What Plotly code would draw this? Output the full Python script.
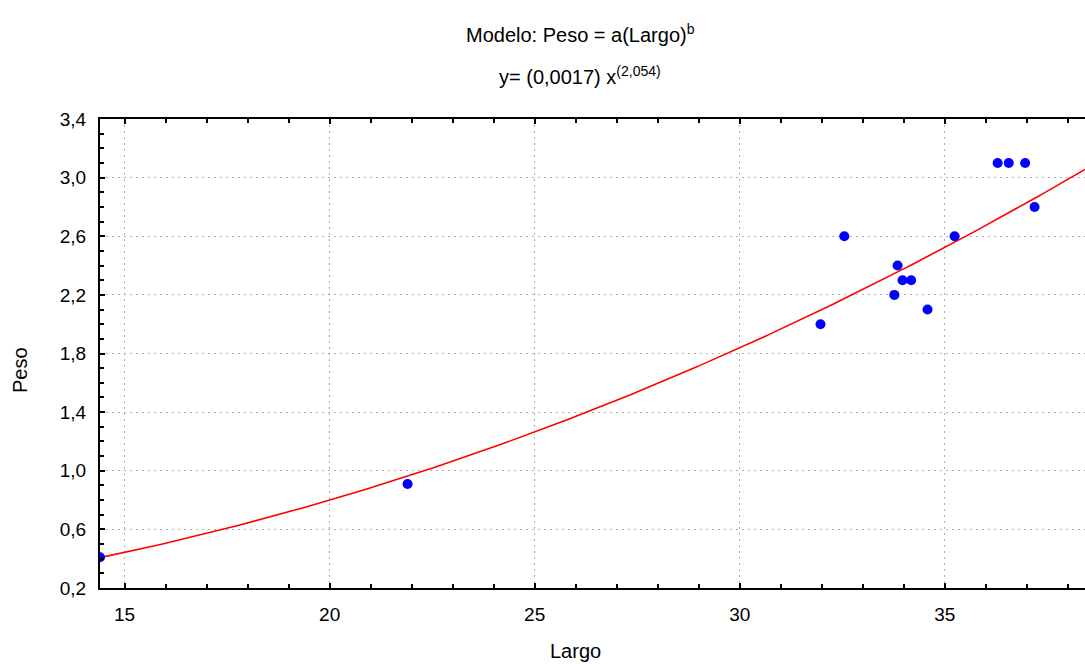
import numpy as np
import plotly.graph_objects as go

# Observed data (Largo, Peso)
largo = [14.4, 21.9, 31.97, 32.55, 33.77, 33.85, 33.97, 34.18, 34.58, 35.24, 36.29, 36.56, 36.96, 37.19]
peso = [0.41, 0.91, 2.00, 2.60, 2.20, 2.40, 2.30, 2.30, 2.10, 2.60, 3.10, 3.10, 3.10, 2.80]

# Fitted model: Peso = a * Largo^b
a_coef = 0.0017
b_coef = 2.054
x_range = [14.4, 38.42]

x_fit = np.linspace(x_range[0], x_range[1], 300)
y_fit = a_coef * x_fit ** b_coef

x_ticks = [15, 20, 25, 30, 35]
y_ticks = [0.2, 0.6, 1.0, 1.4, 1.8, 2.2, 2.6, 3.0, 3.4]
y_ticklabels = ["0,2", "0,6", "1,0", "1,4", "1,8", "2,2", "2,6", "3,0", "3,4"]

FONT = "Liberation Sans, Arial, sans-serif"

fig = go.Figure()
fig.add_trace(go.Scatter(x=x_fit, y=y_fit, mode="lines",
                         line=dict(color="#ff0000", width=1.6), hoverinfo="skip",
                         showlegend=False))
fig.add_trace(go.Scatter(x=largo, y=peso, mode="markers",
                         marker=dict(color="#0000ff", size=10, line=dict(width=0)),
                         showlegend=False))

axis_common = dict(showline=True, linecolor="black", linewidth=2,
                   ticks="inside", ticklen=5, tickwidth=1.5, tickcolor="black",
                   showgrid=True, gridcolor="#b0b0b0", griddash="2px,4px", gridwidth=1,
                   zeroline=False, tickfont=dict(family=FONT, size=19, color="black"),
                   ticklabelstandoff=8)

fig.update_xaxes(range=x_range, tickvals=x_ticks, ticktext=[str(t) for t in x_ticks],
                 mirror="ticks",
                 minor=dict(ticks="inside", dtick=1, tick0=15, ticklen=4, tickcolor="black", showgrid=False),
                 **axis_common)
fig.update_yaxes(range=[0.2, 3.4], tickvals=y_ticks, ticktext=y_ticklabels,
                 mirror=False,
                 minor=dict(ticks="inside", dtick=0.1, tick0=0.2, ticklen=4, tickcolor="black", showgrid=False),
                 **axis_common)

fig.update_layout(
    width=1085, height=664,
    margin=dict(l=100, r=0, t=119, b=76),
    plot_bgcolor="white", paper_bgcolor="white",
    font=dict(family=FONT, color="black"),
    annotations=[
        dict(text="Modelo: Peso = a(Largo)<sup>b</sup>", x=580, y=664 - 34, showarrow=False, font=dict(size=20)),
        dict(text="y= (0,0017) x<sup>(2,054)</sup>", x=580, y=664 - 75, showarrow=False, font=dict(size=20)),
        dict(text="Largo", x=575, y=664 - 651, showarrow=False, font=dict(size=20)),
        dict(text="Peso", x=20, y=664 - 370, showarrow=False, textangle=-90, font=dict(size=20)),
    ],
)

# Convert pixel-based annotation positions to paper coordinates
pw = 1085 - 100 - 0
ph = 664 - 119 - 76
for ann in fig.layout.annotations:
    px, py = ann.x, ann.y
    ann.xref = "paper"
    ann.yref = "paper"
    ann.x = (px - 100) / pw
    ann.y = (py - 76) / ph
    ann.xanchor = "center"
    ann.yanchor = "middle"

fig.write_html("out.html")
